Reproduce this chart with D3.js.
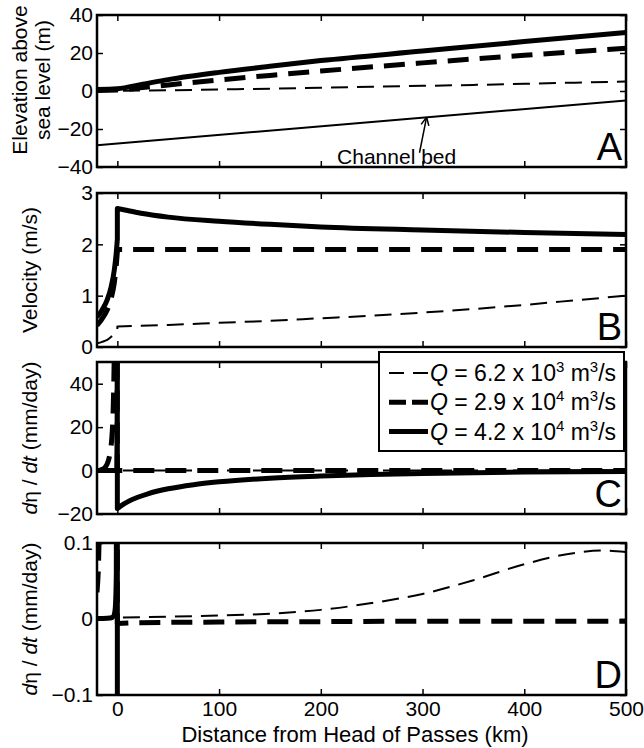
<!DOCTYPE html>
<html>
<head>
<meta charset="utf-8">
<script src="https://cdn.jsdelivr.net/npm/d3@7"></script>
<style>
  body { margin: 0; background: #fff; }
  svg { display: block; }
  text { font-family: "Liberation Sans", Arial, Helvetica, sans-serif; fill: #000; }
</style>
</head>
<body>
<div id="chart"></div>
<script>
// ---- data ---------------------------------------------------------------
const xDomain = [-20, 500];
const xTicks = [0, 100, 200, 300, 400, 500];

// A: elevation above sea level (m)
const bedA = [[-20, -28.5], [500, -5]];
const elevLow = [[-20, 0], [0, 0.1], [50, 0.4], [100, 0.8], [150, 1.2], [200, 1.7], [250, 2.2], [300, 2.7], [350, 3.2], [400, 3.8], [450, 4.4], [500, 5]];
const elevMid = [[-20, 0.3], [0, 0.5], [25, 1.8], [50, 3.2], [100, 5.8], [150, 8.2], [200, 10.5], [300, 14.8], [400, 18.8], [500, 22.5]];
const elevHigh = [[-20, 0.8], [0, 1.2], [25, 3.6], [50, 6], [100, 9.8], [150, 13], [200, 16], [300, 21], [400, 26], [500, 30.8]];

// B: velocity (m/s), split at the jump x = 0
const velLowUp = [[-20, 0.07], [-15, 0.1], [-10, 0.14], [-6, 0.2], [-3, 0.26], [0, 0.33]];
const velLowDown = [[0, 0.4], [50, 0.43], [100, 0.47], [150, 0.51], [200, 0.56], [250, 0.61], [300, 0.67], [350, 0.74], [400, 0.82], [450, 0.91], [500, 1.0]];
const velMidUp = [[-20, 0.42], [-15, 0.55], [-10, 0.72], [-6, 0.95], [-3, 1.25], [-1, 1.6], [0, 1.85]];
const velMidDown = [[0, 1.9], [500, 1.9]];
const velHighUp = [[-20, 0.58], [-15, 0.72], [-10, 0.92], [-6, 1.18], [-3, 1.5], [-1, 1.85], [0, 2.1]];
const velHighDown = [[0, 2.7], [10, 2.66], [25, 2.6], [50, 2.53], [100, 2.45], [150, 2.39], [200, 2.34], [300, 2.28], [400, 2.23], [500, 2.19]];

// C / D: deta/dt (mm/day), same series, D is a close-up
const rateLowUp = [[-20, 0], [-10, 0.0005], [0, 0.002]];
const rateLowDown = [[0, 0.002], [50, 0.003], [100, 0.0045], [150, 0.007], [200, 0.012], [250, 0.021], [300, 0.033], [350, 0.051], [400, 0.072], [450, 0.087], [475, 0.09], [500, 0.088]];
const rateMidUp = [[-20, 0.035], [-18, 0.1], [-15, 0.5], [-12, 1.5], [-10, 3], [-8, 6], [-6, 12], [-5, 18], [-4, 30], [-3, 55], [-2, 100], [-1.5, 400]];
const rateMidDown = [[0, -0.006], [20, -0.005], [100, -0.004], [200, -0.0035], [300, -0.003], [500, -0.003]];
const rateHighUp = [[-20, 0.0005], [-10, 0.001], [-5, 0.002], [-3, 0.006], [-2, 0.015], [-1, 0.06], [-0.5, 1], [-0.2, 20], [0, 1000]];
const rateHighDown = [[0, -17.5], [5, -15.8], [10, -14.4], [20, -12.3], [30, -10.7], [50, -8.4], [75, -6.5], [100, -5.2], [150, -3.5], [200, -2.5], [250, -1.8], [300, -1.3], [400, -0.7], [500, -0.4]];

const legendLabels = [
  {q: '6.2', e: '3'},
  {q: '2.9', e: '4'},
  {q: '4.2', e: '4'}
];

// ---- layout -------------------------------------------------------------
const W = 644, H = 748;
const left = 97, right = 626;
const font = '"Liberation Sans", Arial, Helvetica, sans-serif';

// line styles: low / mid / high discharge, channel bed
const styles = {
  low: {w: 2, dash: '17,9'},
  mid: {w: 5, dash: '21,11'},
  high: {w: 5, dash: null},
  bed: {w: 2, dash: null}
};

const panels = [
  {id: 'A', top: 15, bottom: 167, domain: [-40, 40], ticks: [-40, -20, 0, 20, 40],
   series: [[bedA, 'bed'], [elevLow, 'low'], [elevMid, 'mid'], [elevHigh, 'high']]},
  {id: 'B', top: 193, bottom: 347, domain: [0, 3], ticks: [0, 1, 2, 3],
   series: [[[velLowUp, velLowDown], 'low'], [[velMidUp, velMidDown], 'mid'], [[velHighUp, velHighDown], 'high']]},
  {id: 'C', top: 362, bottom: 514, domain: [-20, 50], ticks: [-20, 0, 20, 40],
   series: [[[rateLowUp, rateLowDown], 'low'], [[rateMidUp, rateMidDown], 'mid'], [[rateHighUp, rateHighDown], 'high']]},
  {id: 'D', top: 543, bottom: 695, domain: [-0.1, 0.1], ticks: [-0.1, 0, 0.1],
   series: [[[rateLowUp, rateLowDown], 'low'], [[rateMidUp, rateMidDown], 'mid'], [[rateHighUp, rateHighDown], 'high']]}
];

const svg = d3.select('#chart').append('svg')
  .attr('width', W)
  .attr('height', H);

const x = d3.scaleLinear().domain(xDomain).range([left, right]);
const fmt = d3.format('');

panels.forEach((p, pi) => {
  const y = d3.scaleLinear().domain(p.domain).range([p.bottom, p.top]);
  const g = svg.append('g');

  svg.append('clipPath').attr('id', 'clip' + p.id)
    .append('rect')
    .attr('x', left).attr('y', p.top)
    .attr('width', right - left).attr('height', p.bottom - p.top);

  // curves ---------------------------------------------------------------
  const line = d3.line()
    .x(d => x(d[0]))
    .y(d => y(d[1]))
    .curve(d3.curveMonotoneX);
  const plot = g.append('g').attr('clip-path', 'url(#clip' + p.id + ')');
  p.series.forEach(([data, key]) => {
    const segs = Array.isArray(data[0][0]) ? data : [data];
    const d = segs.map((s, i) => i ? line(s).replace(/^M/, 'L') : line(s)).join('');
    plot.append('path')
      .attr('d', d)
      .attr('fill', 'none')
      .attr('stroke', '#000')
      .attr('stroke-width', styles[key].w)
      .attr('stroke-dasharray', styles[key].dash)
      .attr('stroke-linejoin', 'round');
  });

  // axes (inward ticks on all sides) -----------------------------------
  const isLast = pi === panels.length - 1;
  g.append('g')
    .attr('transform', 'translate(0,' + p.bottom + ')')
    .call(d3.axisBottom(x).tickValues(xTicks).tickSizeInner(-6).tickSizeOuter(0)
      .tickPadding(6).tickFormat(d => isLast ? fmt(d) : ''));
  g.append('g')
    .attr('transform', 'translate(0,' + p.top + ')')
    .call(d3.axisTop(x).tickValues(xTicks).tickSizeInner(-6).tickSizeOuter(0).tickFormat(''));
  g.append('g')
    .attr('transform', 'translate(' + left + ',0)')
    .call(d3.axisLeft(y).tickValues(p.ticks).tickSizeInner(-6).tickSizeOuter(0)
      .tickPadding(4).tickFormat(fmt));
  g.append('g')
    .attr('transform', 'translate(' + right + ',0)')
    .call(d3.axisRight(y).tickValues(p.ticks).tickSizeInner(-6).tickSizeOuter(0).tickFormat(''));
  g.selectAll('.domain').remove();
  g.selectAll('.tick line').attr('stroke', '#000').attr('stroke-width', 1.5);
  g.selectAll('.tick text').attr('font-size', 21).attr('font-family', font);

  g.append('rect')
    .attr('x', left).attr('y', p.top)
    .attr('width', right - left).attr('height', p.bottom - p.top)
    .attr('fill', 'none')
    .attr('stroke', '#000')
    .attr('stroke-width', 2.5);

  // panel letter
  g.append('text')
    .attr('x', right - 4)
    .attr('y', p.bottom - 7)
    .attr('text-anchor', 'end')
    .attr('font-size', 38)
    .text(p.id);

  p.y = y;
});

// ---- y labels -------------------------------------------------------------
const ylab = (tx, ty) => svg.append('text')
  .attr('transform', 'translate(' + tx + ',' + ty + ') rotate(-90)')
  .attr('text-anchor', 'middle')
  .attr('font-size', 21);

ylab(27, 80).text('Elevation above');
ylab(50, 80).text('sea level (m)');
ylab(37, 270).text('Velocity (m/s)');
[438, 619].forEach(cy => {
  const t = ylab(37, cy);
  t.append('tspan').attr('font-style', 'italic').text('d');
  t.append('tspan').text('\u03b7 / ');
  t.append('tspan').attr('font-style', 'italic').text('dt');
  t.append('tspan').text(' (mm/day)');
});

// x label
svg.append('text')
  .attr('x', 355)
  .attr('y', 742)
  .attr('text-anchor', 'middle')
  .attr('font-size', 22)
  .text('Distance from Head of Passes (km)');

// ---- channel bed annotation ---------------------------------------------------
const yA = panels[0].y;
svg.append('text')
  .attr('x', x(216))
  .attr('y', yA(-38.3))
  .attr('font-size', 21)
  .text('Channel bed');
const tip = [x(304), yA(-13.8)];
const tail = [x(297), yA(-32.5)];
svg.append('line')
  .attr('x1', tail[0]).attr('y1', tail[1])
  .attr('x2', tip[0]).attr('y2', tip[1])
  .attr('stroke', '#000').attr('stroke-width', 1.5);
const ang = Math.atan2(tail[1] - tip[1], tail[0] - tip[0]);
[-0.45, 0.45].forEach(da => {
  svg.append('line')
    .attr('x1', tip[0]).attr('y1', tip[1])
    .attr('x2', tip[0] + 9 * Math.cos(ang + da))
    .attr('y2', tip[1] + 9 * Math.sin(ang + da))
    .attr('stroke', '#000').attr('stroke-width', 1.5);
});

// ---- legend --------------------------------------------------------------------
const leg = svg.append('g');
leg.append('rect')
  .attr('x', 379).attr('y', 352)
  .attr('width', 245).attr('height', 99)
  .attr('fill', '#fff')
  .attr('stroke', '#000')
  .attr('stroke-width', 2);
['low', 'mid', 'high'].forEach((key, i) => {
  const ly = 373 + i * 29.3;
  leg.append('line')
    .attr('x1', 389).attr('x2', 428)
    .attr('y1', ly).attr('y2', ly)
    .attr('stroke', '#000')
    .attr('stroke-width', styles[key].w)
    .attr('stroke-dasharray', key === 'low' ? '15,9' : (key === 'mid' ? '17,6' : null));
  const t = leg.append('text')
    .attr('x', 430)
    .attr('y', ly + 8)
    .attr('font-size', 23);
  t.append('tspan').attr('font-style', 'italic').text('Q');
  t.append('tspan').text(' = ' + legendLabels[i].q + ' x 10');
  t.append('tspan').attr('font-size', 15).attr('dy', -9).text(legendLabels[i].e);
  t.append('tspan').attr('dy', 9).text(' m');
  t.append('tspan').attr('font-size', 15).attr('dy', -9).text('3');
  t.append('tspan').attr('dy', 9).text('/s');
});
</script>
</body>
</html>
